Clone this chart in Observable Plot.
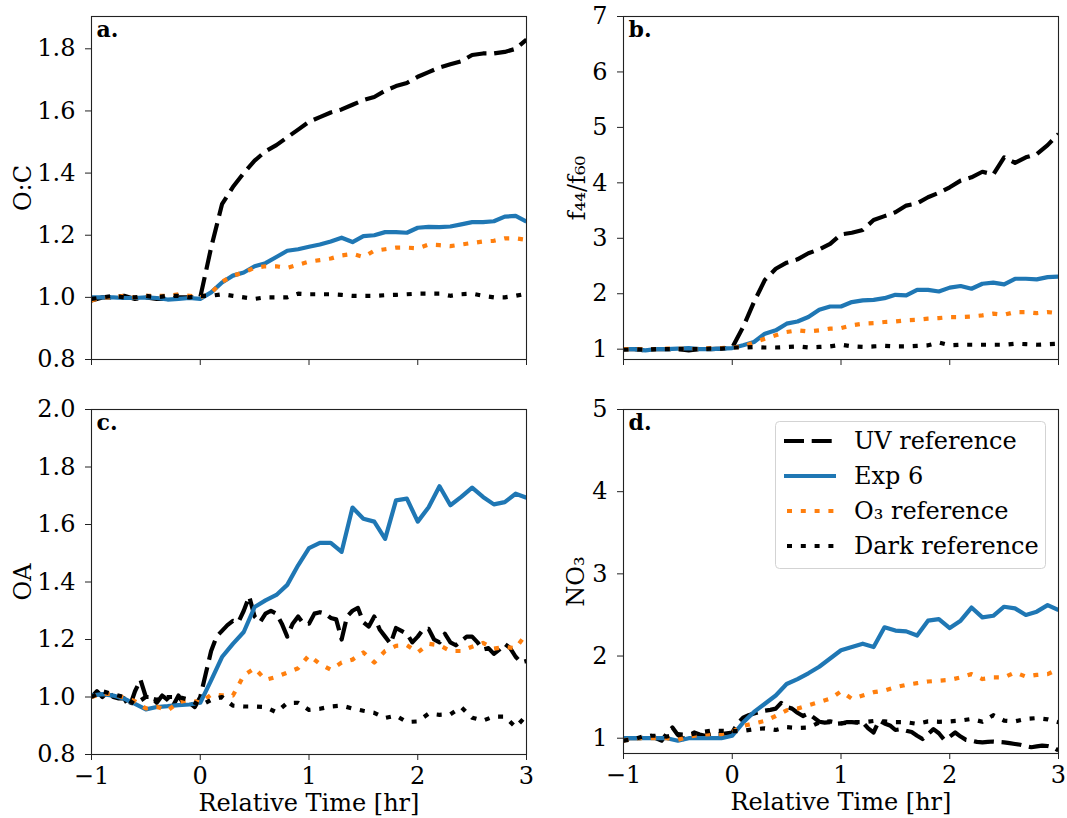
<!DOCTYPE html>
<html><head><meta charset="utf-8">
<script src="https://cdn.jsdelivr.net/npm/d3@7"></script>
<script src="https://cdn.jsdelivr.net/npm/@observablehq/plot@0.6"></script>
<style>
html,body{margin:0;padding:0;background:#fff;}
#fig{position:relative;width:1067px;height:818px;overflow:hidden;font-family:'DejaVu Serif',serif;}
#fig > svg, #fig > figure{position:absolute;margin:0;}
</style></head><body><div id="fig"></div>
<script>
// ---- data ----
const t10 = [-1,-0.9,-0.8,-0.7,-0.6,-0.5,-0.4,-0.3,-0.2,-0.1,0,0.1,0.2,0.3,0.4,0.5,0.6,0.7,0.8,0.9,1,1.1,1.2,1.3,1.4,1.5,1.6,1.7,1.8,1.9,2,2.1,2.2,2.3,2.4,2.5,2.6,2.7,2.8,2.9,3];
const t05 = [-1,-0.95,-0.9,-0.85,-0.8,-0.75,-0.7,-0.65,-0.6,-0.55,-0.5,-0.45,-0.4,-0.35,-0.3,-0.25,-0.2,-0.15,-0.1,-0.05,0,0.05,0.1,0.15,0.2,0.25,0.3,0.35,0.4,0.45,0.5,0.55,0.6,0.65,0.7,0.75,0.8,0.85,0.9,0.95,1,1.05,1.1,1.15,1.2,1.25,1.3,1.35,1.4,1.45,1.5,1.55,1.6,1.65,1.7,1.75,1.8,1.85,1.9,1.95,2,2.05,2.1,2.15,2.2,2.25,2.3,2.35,2.4,2.45,2.5,2.55,2.6,2.65,2.7,2.75,2.8,2.85,2.9,2.95,3];

const seriesNames = ["UV reference", "Exp 6", "O\u2083 reference", "Dark reference"];
const xTicks = [-1, 0, 1, 2, 3];
const xLabel = "Relative Time [hr]";

// a. O:C
const a_uv   = [0.99,1.0,1.0,1.005,0.995,1.0,0.995,0.995,1.0,1.0,1.0,1.16,1.30,1.355,1.40,1.44,1.47,1.49,1.515,1.54,1.565,1.58,1.595,1.605,1.62,1.635,1.645,1.665,1.68,1.69,1.71,1.725,1.74,1.75,1.76,1.78,1.785,1.785,1.79,1.80,1.83];
const a_exp6 = [1.0,1.0,1.0,0.998,0.998,1.0,0.998,0.993,0.995,0.998,0.995,1.016,1.048,1.07,1.08,1.10,1.11,1.13,1.15,1.155,1.163,1.17,1.18,1.192,1.178,1.197,1.20,1.21,1.21,1.208,1.224,1.227,1.226,1.228,1.235,1.242,1.242,1.245,1.26,1.262,1.244];
const a_o3   = [0.99,1.0,1.0,1.005,1.0,1.005,1.005,1.005,1.01,1.005,1.0,1.015,1.05,1.07,1.08,1.095,1.10,1.10,1.095,1.105,1.115,1.12,1.125,1.135,1.14,1.13,1.15,1.155,1.16,1.16,1.158,1.17,1.168,1.165,1.17,1.175,1.18,1.182,1.19,1.19,1.185];
const a_dark = [0.995,1.0,1.005,1.0,1.0,1.005,1.0,1.005,1.005,1.0,1.005,1.005,1.01,1.005,1.0,0.995,1.0,1.0,1.0,1.012,1.01,1.01,1.01,1.008,1.005,1.005,1.005,1.007,1.008,1.01,1.012,1.012,1.012,1.005,1.01,1.012,1.005,1.0,1.0,1.005,1.012];
const a_yTicks = [0.8, 1.0, 1.2, 1.4, 1.6, 1.8];

// b. f44/f60
const b_uv   = [1.0,1.0,0.98,1.0,1.0,1.0,0.98,1.0,1.0,1.01,1.03,1.40,1.85,2.25,2.45,2.56,2.62,2.73,2.80,2.90,3.07,3.10,3.15,3.33,3.40,3.47,3.59,3.63,3.74,3.82,3.92,4.04,4.10,4.20,4.15,4.46,4.36,4.46,4.52,4.68,4.88];
const b_exp6 = [1.0,1.0,0.98,1.0,1.0,1.01,1.02,1.0,1.0,1.01,1.02,1.07,1.13,1.28,1.34,1.46,1.50,1.58,1.71,1.77,1.77,1.85,1.88,1.89,1.92,1.98,1.97,2.07,2.07,2.04,2.11,2.14,2.09,2.18,2.20,2.17,2.27,2.27,2.26,2.30,2.31];
const b_o3   = [1.0,1.0,1.0,1.0,1.01,1.01,1.0,1.01,1.02,1.02,1.03,1.05,1.12,1.19,1.25,1.31,1.34,1.32,1.34,1.37,1.38,1.43,1.46,1.47,1.49,1.50,1.52,1.53,1.55,1.56,1.58,1.58,1.59,1.61,1.64,1.62,1.67,1.67,1.65,1.67,1.65];
const b_dark = [0.99,1.0,0.99,1.0,1.0,1.0,1.0,1.0,1.01,1.01,1.03,1.03,1.04,1.03,1.03,1.04,1.05,1.03,1.04,1.05,1.08,1.05,1.04,1.05,1.06,1.05,1.05,1.06,1.07,1.12,1.07,1.08,1.08,1.08,1.08,1.08,1.10,1.09,1.08,1.09,1.10];
const b_yTicks = [1, 2, 3, 4, 5, 6, 7];

// c. OA (UV reference sampled every 0.05 hr)
const c_uv   = [1.00,1.02,1.00,1.02,1.00,0.995,0.995,0.965,1.02,1.06,1.00,1.00,0.98,1.005,0.99,0.97,1.005,0.975,0.98,0.965,1.00,1.08,1.16,1.21,1.23,1.25,1.265,1.26,1.30,1.35,1.28,1.26,1.29,1.30,1.29,1.255,1.21,1.255,1.28,1.255,1.255,1.29,1.295,1.29,1.275,1.27,1.20,1.28,1.30,1.31,1.26,1.245,1.28,1.235,1.21,1.185,1.24,1.23,1.22,1.19,1.21,1.235,1.237,1.20,1.19,1.22,1.19,1.18,1.195,1.21,1.21,1.19,1.165,1.17,1.15,1.165,1.185,1.17,1.14,1.12,1.125];
const c_exp6 = [1.005,1.01,1.005,0.994,0.976,0.957,0.965,0.968,0.972,0.974,0.98,1.058,1.139,1.185,1.226,1.313,1.336,1.355,1.39,1.458,1.518,1.536,1.536,1.505,1.659,1.62,1.61,1.55,1.684,1.69,1.61,1.66,1.733,1.667,1.696,1.728,1.696,1.67,1.678,1.707,1.693];
const c_o3   = [1.00,1.012,1.01,0.998,0.985,0.96,0.966,0.953,0.982,0.99,0.98,1.008,1.006,1.005,1.075,1.10,1.06,1.07,1.085,1.10,1.145,1.115,1.095,1.12,1.13,1.155,1.12,1.16,1.178,1.18,1.155,1.185,1.18,1.16,1.16,1.175,1.188,1.168,1.174,1.17,1.22];
const c_dark = [1.00,1.02,1.01,1.00,0.975,1.00,0.99,1.00,1.00,0.99,0.97,0.99,1.0,0.97,0.967,0.967,0.965,0.947,0.979,0.98,0.955,0.959,0.967,0.97,0.96,0.952,0.945,0.927,0.935,0.913,0.915,0.942,0.938,0.94,0.965,0.928,0.918,0.932,0.932,0.895,0.936];
const c_yTicks = [0.8, 1.0, 1.2, 1.4, 1.6, 1.8, 2.0];

// d. NO3 (UV reference sampled every 0.05 hr)
const d_uv   = [0.97,1.00,1.00,1.00,1.01,1.03,1.00,0.97,1.06,1.13,1.04,0.99,1.03,1.07,1.045,1.03,1.04,1.05,1.05,1.06,1.07,1.18,1.25,1.28,1.30,1.32,1.335,1.345,1.36,1.43,1.38,1.36,1.31,1.27,1.30,1.25,1.20,1.19,1.195,1.175,1.18,1.195,1.195,1.19,1.195,1.12,1.07,1.215,1.18,1.155,1.10,1.11,1.09,1.075,1.03,0.99,1.05,1.11,1.06,0.98,1.02,1.07,1.02,0.98,0.97,0.955,0.95,0.955,0.96,0.955,0.95,0.94,0.93,0.92,0.905,0.89,0.90,0.91,0.905,0.89,0.85];
const d_exp6 = [1.0,1.0,1.0,1.0,1.0,0.97,1.0,1.0,1.0,1.0,1.03,1.19,1.32,1.42,1.52,1.66,1.72,1.79,1.87,1.97,2.07,2.11,2.15,2.11,2.35,2.31,2.30,2.25,2.43,2.45,2.34,2.43,2.59,2.47,2.49,2.60,2.58,2.50,2.54,2.62,2.56];
const d_o3   = [0.97,1.0,1.0,1.0,1.0,0.98,1.02,1.04,1.05,1.05,1.08,1.15,1.18,1.21,1.27,1.34,1.36,1.40,1.44,1.48,1.57,1.48,1.52,1.56,1.58,1.62,1.65,1.67,1.69,1.70,1.71,1.74,1.78,1.72,1.74,1.74,1.80,1.75,1.77,1.78,1.84];
const d_dark = [0.97,0.99,1.03,1.03,1.02,1.05,1.04,1.07,1.09,1.09,1.085,1.09,1.11,1.12,1.10,1.135,1.125,1.13,1.19,1.205,1.18,1.195,1.195,1.21,1.205,1.195,1.195,1.175,1.205,1.20,1.205,1.215,1.235,1.20,1.28,1.215,1.205,1.235,1.245,1.23,1.195];
const d_yTicks = [1, 2, 3, 4, 5];

// ---- styles ----
const BLUE = "#1f77b4", ORANGE = "#ff7f0e", INK = "#000";
const DASH = "20,7.7", DOT = "5,8.8", LW = 4.2;
const FONT = "'DejaVu Serif', serif";
const TICK_FS = 24, LABEL_FS = 24;

const rows = (ts, vs) => ts.map((t, i) => ({t, v: vs[i]}));
const minus = d => d < 0 ? "\u2212" + (-d) : String(d);

function panel(cfg) {
  const lo = {x: "t", y: "v", strokeWidth: LW, strokeLinejoin: "round", strokeLinecap: "butt", clip: true};
  const marks = [
    Plot.line(rows(cfg.tUV, cfg.uv), {...lo, stroke: INK, strokeDasharray: DASH}),
    Plot.line(rows(t10, cfg.exp6), {...lo, stroke: BLUE}),
    Plot.line(rows(t10, cfg.o3), {...lo, stroke: ORANGE, strokeDasharray: DOT}),
    Plot.line(rows(t10, cfg.dark), {...lo, stroke: INK, strokeDasharray: DOT}),
    Plot.frame({stroke: "#222", strokeWidth: 1.1}),
    Plot.axisX({ticks: xTicks, tickSize: 6, tickPadding: 6, stroke: "#222", fontSize: TICK_FS,
      tickFormat: cfg.xLabels ? minus : () => "", label: null}),
    Plot.axisY({ticks: cfg.yTicks, tickSize: 6, tickPadding: 10, stroke: "#222", fontSize: TICK_FS,
      tickFormat: cfg.yFmt, label: null}),
    Plot.text([cfg.yLabel], {frameAnchor: "left", dx: cfg.yLabelDx, rotate: -90, textAnchor: "middle",
      lineAnchor: "middle", fontSize: LABEL_FS, fill: "#000"}),
    Plot.text([cfg.letter], {frameAnchor: "top-left", dx: 5, dy: 5, lineAnchor: "top", textAnchor: "start",
      fontWeight: "bold", fontSize: 22, fill: "#000"})
  ];
  if (cfg.xLabels) marks.push(Plot.text([xLabel], {frameAnchor: "bottom", dy: 49, textAnchor: "middle",
      lineAnchor: "middle", fontSize: LABEL_FS, fill: "#000"}));
  const svg = Plot.plot({
    width: cfg.w, height: cfg.h,
    marginLeft: cfg.ml, marginRight: cfg.mr, marginTop: cfg.mt, marginBottom: cfg.mb,
    style: {fontFamily: FONT, fontSize: TICK_FS + "px", color: "#000", background: "transparent", overflow: "visible"},
    x: {domain: [-1, 3]},
    y: {domain: cfg.yDomain},
    marks
  });
  svg.style.left = cfg.left + "px";
  svg.style.top = cfg.top + "px";
  return svg;
}

const fig = document.getElementById("fig");
const f1 = d => d.toFixed(1), f0 = d => String(d);

fig.appendChild(panel({left: 0, top: 0, w: 533, h: 395, ml: 91, mr: 7, mt: 16, mb: 36,
  yDomain: [0.8, 1.904], yTicks: a_yTicks, yFmt: f1, yLabel: "O:C", yLabelDx: -68, letter: "a.",
  tUV: t10, uv: a_uv, exp6: a_exp6, o3: a_o3, dark: a_dark, xLabels: false}));
fig.appendChild(panel({left: 533, top: 0, w: 534, h: 395, ml: 90, mr: 9, mt: 16, mb: 36,
  yDomain: [0.814, 7], yTicks: b_yTicks, yFmt: f0, yLabel: "f\u2084\u2084/f\u2086\u2080", yLabelDx: -46, letter: "b.",
  tUV: t10, uv: b_uv, exp6: b_exp6, o3: b_o3, dark: b_dark, xLabels: false}));
fig.appendChild(panel({left: 0, top: 395, w: 533, h: 423, ml: 91, mr: 7, mt: 14, mb: 64,
  yDomain: [0.8, 2.0], yTicks: c_yTicks, yFmt: f1, yLabel: "OA", yLabelDx: -68, letter: "c.",
  tUV: t05, uv: c_uv, exp6: c_exp6, o3: c_o3, dark: c_dark, xLabels: true}));
fig.appendChild(panel({left: 533, top: 395, w: 534, h: 423, ml: 90, mr: 9, mt: 14, mb: 65,
  yDomain: [0.814, 5], yTicks: d_yTicks, yFmt: f0, yLabel: "NO\u2083", yLabelDx: -47, letter: "d.",
  tUV: t05, uv: d_uv, exp6: d_exp6, o3: d_o3, dark: d_dark, xLabels: true}));

// ---- legend (panel d) ----
const legStyles = [
  {stroke: INK, dash: DASH},
  {stroke: BLUE, dash: null},
  {stroke: ORANGE, dash: DOT},
  {stroke: INK, dash: DOT}
];
const leg = d3.create("svg").attr("width", 273).attr("height", 150)
  .style("left", "775px").style("top", "421px").style("position", "absolute").style("overflow", "visible");
leg.append("rect").attr("x", 0.5).attr("y", 0.5).attr("width", 270).attr("height", 147).attr("rx", 4)
  .attr("fill", "#fff").attr("fill-opacity", 0.8).attr("stroke", "#d3d3d3").attr("stroke-width", 1);
const rowY = [20, 55, 90, 125];
seriesNames.forEach((name, i) => {
  const g = leg.append("g").attr("transform", `translate(0,${rowY[i]})`);
  g.append("line").attr("x1", 9).attr("x2", 61).attr("y1", 0).attr("y2", 0)
    .attr("stroke", legStyles[i].stroke).attr("stroke-width", LW)
    .attr("stroke-dasharray", legStyles[i].dash).attr("stroke-dashoffset", legStyles[i].dash === DOT ? -3 : 0);
  g.append("text").attr("x", 79).attr("y", 0).attr("dy", "0.35em")
    .attr("font-family", FONT).attr("font-size", LABEL_FS).attr("fill", "#000").text(name);
});
fig.appendChild(leg.node());
</script></body></html>
